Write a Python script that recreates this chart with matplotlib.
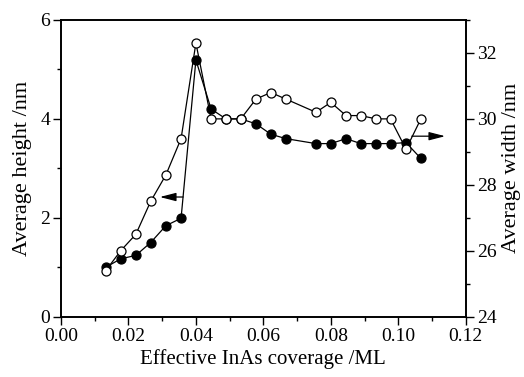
#!/usr/bin/env python

import matplotlib
matplotlib.use('Agg')
import matplotlib.pyplot as plt
from matplotlib.ticker import MultipleLocator

# coverage (ML)
coverage = [0.0133, 0.0177, 0.0222, 0.0266, 0.0311, 0.0356, 0.0400, 0.0445,
            0.0489, 0.0533, 0.0578, 0.0622, 0.0667, 0.0756, 0.0800, 0.0845,
            0.0889, 0.0934, 0.0977, 0.1023, 0.1067]
# average height (nm), filled circles
height = [1.0, 1.17, 1.24, 1.50, 1.84, 1.99, 5.19, 4.20,
          4.0, 4.0, 3.90, 3.69, 3.60, 3.50, 3.50, 3.60,
          3.50, 3.50, 3.50, 3.52, 3.20]
# average width (nm), open circles
width = [25.4, 26.0, 26.5, 27.5, 28.3, 29.4, 32.3, 30.0,
         30.0, 30.0, 30.6, 30.8, 30.6, 30.2, 30.5, 30.1,
         30.1, 30.0, 30.0, 29.08, 30.0]


def main():
    plt.rcParams['font.family'] = 'Liberation Serif'
    plt.rcParams['font.size'] = 14

    fig = plt.figure(figsize=(5.24, 3.77), dpi=100)
    ax1 = fig.add_axes([0.1164, 0.16, 0.7724, 0.787])
    ax2 = ax1.twinx()

    ax1.plot(coverage, height, color='black', lw=0.9, marker='o', ms=6.5,
             mfc='black', mec='black', mew=0.9)
    ax2.plot(coverage, width, color='black', lw=0.9, marker='o', ms=6.5,
             mfc='white', mec='black', mew=0.9)

    ax1.set_xlim(0, 0.12)
    ax1.set_ylim(0, 6)
    ax2.set_ylim(24, 33)

    ax1.xaxis.set_major_locator(MultipleLocator(0.02))
    ax1.xaxis.set_minor_locator(MultipleLocator(0.01))
    ax1.yaxis.set_major_locator(MultipleLocator(2))
    ax1.yaxis.set_minor_locator(MultipleLocator(1))
    ax2.yaxis.set_major_locator(MultipleLocator(2))
    ax2.yaxis.set_minor_locator(MultipleLocator(1))
    ax1.xaxis.set_major_formatter(plt.FormatStrFormatter('%.2f'))

    for ax in (ax1, ax2):
        ax.tick_params(which='major', direction='out', length=6, width=1, pad=2)
        ax.tick_params(which='minor', direction='out', length=3, width=1)
        for sp in ax.spines.values():
            sp.set_linewidth(1.2)

    ax1.set_xlabel('Effective InAs coverage /ML', fontsize=15, labelpad=3)
    ax1.set_ylabel('Average height /nm', fontsize=16, labelpad=6)
    ax2.set_ylabel('Average width /nm', fontsize=16, labelpad=4)

    ax1.annotate('', xy=(0.0293, 2.42), xytext=(0.0362, 2.42),
                 arrowprops=dict(arrowstyle='-|>,head_length=0.7,head_width=0.18',
                                 color='black', lw=0.9,
                                 mutation_scale=14, shrinkA=0, shrinkB=0))
    ax1.annotate('', xy=(0.1139, 3.65), xytext=(0.1040, 3.65),
                 arrowprops=dict(arrowstyle='-|>,head_length=0.7,head_width=0.18',
                                 color='black', lw=0.9,
                                 mutation_scale=14, shrinkA=0, shrinkB=0))

    fig.savefig('out.png', dpi=100)


if __name__ == '__main__':
    main()
